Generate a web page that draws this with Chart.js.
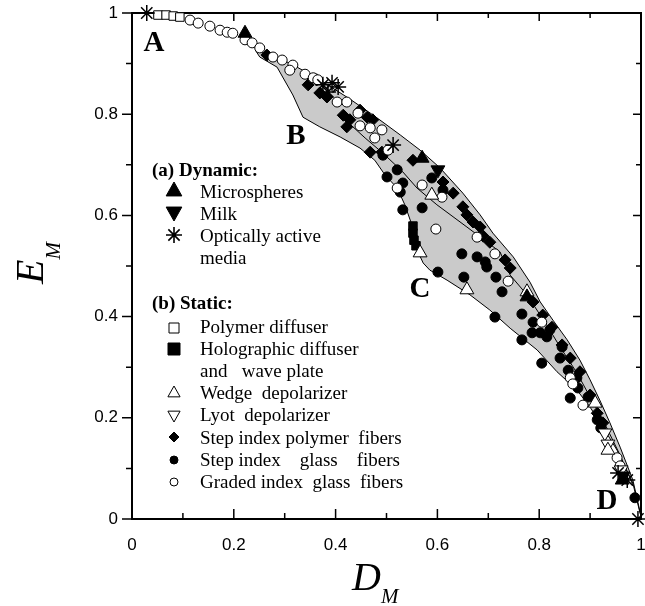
<!DOCTYPE html>
<html>
<head>
<meta charset="utf-8">
<script src="https://cdn.jsdelivr.net/npm/chart.js@4.4.1/dist/chart.umd.min.js"></script>
<style>
  html, body { margin: 0; padding: 0; background: #fff; }
  canvas { display: block; }
</style>
</head>
<body>
<canvas id="chart" width="645" height="606"></canvas>
<script>
// values: [D_M, E_M]
const microspheres = [[0.222, 0.960], [0.570, 0.713], [0.776, 0.439], [0.963, 0.077]];
const milk = [[0.601, 0.690], [0.965, 0.085]];
const opticallyActive = [[0.029, 1.0], [0.375, 0.858], [0.393, 0.862], [0.405, 0.854], [0.385, 0.844],
  [0.513, 0.739], [0.955, 0.091], [0.973, 0.077], [0.994, 0.0]];
const polymerDiffuser = [[0.051, 0.996], [0.067, 0.996], [0.081, 0.994], [0.094, 0.992]];
const holographicDiffuser = [[0.552, 0.579], [0.552, 0.565], [0.554, 0.551], [0.558, 0.540]];
const wedgeDepolarizer = [[0.566, 0.526], [0.589, 0.640], [0.658, 0.453], [0.776, 0.449], [0.910, 0.229], [0.935, 0.136]];
const lyotDepolarizer = [[0.929, 0.170], [0.935, 0.148], [0.961, 0.097]];
const stepIndexPolymer = [[0.265, 0.917], [0.346, 0.858], [0.363, 0.868], [0.369, 0.842], [0.383, 0.834],
  [0.415, 0.798], [0.428, 0.789], [0.422, 0.775], [0.448, 0.808], [0.462, 0.794], [0.473, 0.789],
  [0.468, 0.725], [0.491, 0.725], [0.552, 0.709], [0.611, 0.666], [0.631, 0.644], [0.650, 0.617],
  [0.658, 0.601], [0.670, 0.587], [0.684, 0.577], [0.690, 0.559], [0.703, 0.547], [0.733, 0.512],
  [0.743, 0.496], [0.788, 0.429], [0.807, 0.403], [0.825, 0.379], [0.845, 0.344], [0.861, 0.318],
  [0.880, 0.291], [0.900, 0.245], [0.914, 0.209], [0.925, 0.190]];
const stepIndexGlass = [[0.521, 0.690], [0.501, 0.676], [0.493, 0.719], [0.532, 0.664], [0.527, 0.646],
  [0.532, 0.611], [0.570, 0.615], [0.589, 0.674], [0.611, 0.650], [0.648, 0.524], [0.678, 0.518],
  [0.694, 0.508], [0.697, 0.498], [0.601, 0.488], [0.652, 0.478], [0.715, 0.478], [0.727, 0.449],
  [0.713, 0.399], [0.766, 0.405], [0.788, 0.389], [0.786, 0.368], [0.802, 0.368], [0.815, 0.360],
  [0.821, 0.374], [0.766, 0.354], [0.845, 0.340], [0.841, 0.318], [0.805, 0.308], [0.857, 0.294],
  [0.874, 0.279], [0.876, 0.259], [0.861, 0.239], [0.896, 0.241], [0.914, 0.196], [0.921, 0.180],
  [0.988, 0.042]];
const gradedIndexGlass = [[0.114, 0.986], [0.130, 0.980], [0.153, 0.974], [0.173, 0.966], [0.187, 0.962],
  [0.198, 0.960], [0.222, 0.947], [0.236, 0.941], [0.251, 0.931], [0.277, 0.913], [0.295, 0.907],
  [0.316, 0.897], [0.310, 0.887], [0.340, 0.879], [0.356, 0.872], [0.365, 0.868], [0.403, 0.824],
  [0.422, 0.824], [0.444, 0.802], [0.448, 0.777], [0.468, 0.773], [0.491, 0.769], [0.477, 0.753],
  [0.503, 0.729], [0.521, 0.654], [0.570, 0.660], [0.609, 0.636], [0.597, 0.573], [0.678, 0.557],
  [0.713, 0.524], [0.739, 0.470], [0.805, 0.389], [0.861, 0.279], [0.866, 0.267], [0.886, 0.225],
  [0.953, 0.121], [0.959, 0.105]];

// grey region: upper edge then lower edge back
const regionOutline = [[0.242, 0.927], [0.310, 0.901], [0.369, 0.868], [0.428, 0.830], [0.477, 0.796],
  [0.527, 0.759], [0.566, 0.729], [0.605, 0.694], [0.650, 0.644], [0.684, 0.601], [0.709, 0.565],
  [0.749, 0.518], [0.782, 0.468], [0.802, 0.429], [0.827, 0.393], [0.855, 0.354], [0.880, 0.314],
  [0.900, 0.275], [0.919, 0.235], [0.939, 0.190], [0.959, 0.142], [0.984, 0.077], [1.0, 0.006],
  [0.998, 0.012], [0.984, 0.071], [0.953, 0.136], [0.925, 0.182], [0.900, 0.221], [0.874, 0.255],
  [0.835, 0.291], [0.796, 0.334], [0.743, 0.377], [0.703, 0.413], [0.664, 0.443], [0.619, 0.472],
  [0.585, 0.492], [0.572, 0.506], [0.560, 0.532], [0.550, 0.581], [0.536, 0.621], [0.521, 0.654],
  [0.497, 0.680], [0.477, 0.709], [0.448, 0.733], [0.409, 0.755], [0.369, 0.775], [0.336, 0.794],
  [0.316, 0.838], [0.285, 0.893], [0.251, 0.913], [0.242, 0.927]];
const regionDivider = [[0.409, 0.798], [0.458, 0.753], [0.493, 0.723], [0.532, 0.686], [0.560, 0.654],
  [0.599, 0.621], [0.658, 0.577], [0.723, 0.528], [0.743, 0.482], [0.776, 0.443], [0.815, 0.383],
  [0.841, 0.340], [0.874, 0.289], [0.900, 0.241], [0.925, 0.196], [0.959, 0.126], [0.984, 0.067]];

const tickMarks = [0, 0.1, 0.2, 0.3, 0.4, 0.5, 0.6, 0.7, 0.8, 0.9, 1];
const pointNames = [['A', 0.043, 0.940], ['B', 0.322, 0.755], ['C', 0.566, 0.453], ['D', 0.933, 0.034]];

const legendRows = [
  { text: '(a) Dynamic:', y: 176 },
  { text: 'Microspheres', y: 198, mark: 'up', fill: true, r: 9, dy: -7 },
  { text: 'Milk', y: 220, mark: 'down', fill: true, r: 9, dy: -8 },
  { text: 'Optically active', y: 242, mark: 'star', r: 8, dy: -7 },
  { text: 'media', y: 264 },
  { text: '(b) Static:', y: 309 },
  { text: 'Polymer diffuser', y: 333, mark: 'rect', fill: false, r: 5, dy: -5 },
  { text: 'Holographic diffuser', y: 355, mark: 'rect', fill: true, r: 6, dy: -6 },
  { text: 'and   wave plate', y: 377 },
  { text: 'Wedge  depolarizer', y: 399, mark: 'up', fill: false, r: 7, dy: -6 },
  { text: 'Lyot  depolarizer', y: 421, mark: 'down', fill: false, r: 7, dy: -6 },
  { text: 'Step index polymer  fibers', y: 444, mark: 'diamond', fill: true, r: 5, dy: -7 },
  { text: 'Step index    glass    fibers', y: 466, mark: 'circle', fill: true, r: 4, dy: -6 },
  { text: 'Graded index  glass  fibers', y: 488, mark: 'circle', fill: false, r: 4, dy: -6 }
];

const pts = arr => arr.map(([x, y]) => ({ x, y }));
const serif = '"Liberation Serif", "Times New Roman", serif';

function marker(ctx, kind, x, y, r, filled) {
  ctx.beginPath();
  if (kind === 'circle') {
    ctx.arc(x, y, r, 0, Math.PI * 2);
  } else if (kind === 'rect') {
    ctx.rect(x - r, y - r, 2 * r, 2 * r);
  } else if (kind === 'diamond') {
    ctx.moveTo(x, y - r); ctx.lineTo(x + r, y); ctx.lineTo(x, y + r); ctx.lineTo(x - r, y); ctx.closePath();
  } else if (kind === 'up') {
    ctx.moveTo(x, y - r); ctx.lineTo(x + r * 0.87, y + r * 0.55); ctx.lineTo(x - r * 0.87, y + r * 0.55); ctx.closePath();
  } else if (kind === 'down') {
    ctx.moveTo(x, y + r); ctx.lineTo(x + r * 0.87, y - r * 0.55); ctx.lineTo(x - r * 0.87, y - r * 0.55); ctx.closePath();
  } else if (kind === 'star') {
    for (let i = 0; i < 4; i++) {
      const a = i * Math.PI / 4;
      ctx.moveTo(x - r * Math.cos(a), y - r * Math.sin(a));
      ctx.lineTo(x + r * Math.cos(a), y + r * Math.sin(a));
    }
  }
  if (kind !== 'star') {
    ctx.fillStyle = filled ? '#000' : '#fff';
    ctx.fill();
  }
  ctx.stroke();
}

const frame = {
  id: 'frame',
  beforeDatasetsDraw(chart) {
    const { ctx, chartArea: a, scales: { x, y } } = chart;
    ctx.save();
    ctx.strokeStyle = '#000';
    ctx.lineWidth = 1.5;
    ctx.beginPath();
    tickMarks.forEach((v, i) => {
      const major = i % 2 === 0;
      const px = x.getPixelForValue(v), py = y.getPixelForValue(v);
      ctx.moveTo(px, a.bottom); ctx.lineTo(px, a.bottom - (major ? 10 : 6));
      ctx.moveTo(px, a.top); ctx.lineTo(px, a.top + (major ? 8 : 5));
      ctx.moveTo(a.left, py); ctx.lineTo(a.left - (major ? 10 : 6), py);
      ctx.moveTo(a.right, py); ctx.lineTo(a.right - (major ? 8 : 5), py);
    });
    ctx.stroke();
    ctx.lineWidth = 2;
    ctx.strokeRect(a.left, a.top, a.right - a.left, a.bottom - a.top);
    ctx.restore();
  }
};

const notes = {
  id: 'notes',
  afterDatasetsDraw(chart) {
    const { ctx, scales: { x, y } } = chart;
    ctx.save();
    ctx.fillStyle = '#000';
    ctx.strokeStyle = '#000';
    ctx.textAlign = 'center';
    ctx.textBaseline = 'middle';
    ctx.font = 'bold 29px ' + serif;
    pointNames.forEach(([t, vx, vy]) => ctx.fillText(t, x.getPixelForValue(vx), y.getPixelForValue(vy)));

    // legend
    ctx.textAlign = 'left';
    ctx.textBaseline = 'alphabetic';
    ctx.lineWidth = 1;
    legendRows.forEach(row => {
      if (row.text.startsWith('(')) {
        ctx.font = 'bold 19px ' + serif;
        ctx.fillStyle = '#000';
        ctx.fillText(row.text, 152, row.y);
        return;
      }
      ctx.font = '19px ' + serif;
      ctx.fillStyle = '#000';
      ctx.fillText(row.text, 200, row.y);
      if (row.mark) {
        ctx.lineWidth = row.mark === 'star' ? 1.6 : 1;
        marker(ctx, row.mark, 174, row.y + row.dy, row.r, row.fill);
      }
    });

    // axis titles with subscript
    ctx.fillStyle = '#000';
    ctx.font = 'italic 40px ' + serif;
    const dW = ctx.measureText('D').width;
    ctx.fillText('D', 352, 590);
    ctx.font = 'italic 21px ' + serif;
    ctx.fillText('M', 352 + dW, 603);

    ctx.translate(43, 284);
    ctx.rotate(-Math.PI / 2);
    ctx.font = 'italic 40px ' + serif;
    const eW = ctx.measureText('E').width;
    ctx.fillText('E', 0, 0);
    ctx.font = 'italic 21px ' + serif;
    ctx.fillText('M', eW, 17);
    ctx.restore();
  }
};

const ticksFont = { family: '"Liberation Sans", Arial, sans-serif', size: 17 };
const tickText = v => String(Number(v.toFixed(1)));

function series(data, style, extra) {
  return Object.assign({
    data: pts(data),
    pointStyle: style,
    borderColor: '#000',
    pointBorderWidth: 1,
    showLine: false
  }, extra);
}

new Chart(document.getElementById('chart'), {
  type: 'scatter',
  data: {
    datasets: [
      series(opticallyActive, 'star', { pointRadius: 8, pointBorderWidth: 1.5, order: 0, clip: false }),
      series(microspheres, 'triangle', { backgroundColor: '#000', pointRadius: 8, order: 1 }),
      series(milk, 'triangle', { backgroundColor: '#000', pointRadius: 8, rotation: 180, order: 1 }),
      series(wedgeDepolarizer, 'triangle', { backgroundColor: '#fff', pointRadius: 8, order: 2 }),
      series(lyotDepolarizer, 'triangle', { backgroundColor: '#fff', pointRadius: 8, rotation: 180, order: 2 }),
      series(polymerDiffuser, 'rect', { backgroundColor: '#fff', pointRadius: 6, order: 3, clip: false }),
      series(holographicDiffuser, 'rect', { backgroundColor: '#000', pointRadius: 6, order: 3 }),
      series(gradedIndexGlass, 'circle', { backgroundColor: '#fff', pointRadius: 5, order: 4 }),
      series(stepIndexPolymer, 'rectRot', { backgroundColor: '#000', pointRadius: 6, order: 5 }),
      series(stepIndexGlass, 'circle', { backgroundColor: '#000', pointRadius: 5, order: 6 }),
      {
        type: 'line',
        data: pts(regionDivider),
        borderColor: '#000',
        borderWidth: 1,
        pointRadius: 0,
        fill: false,
        tension: 0,
        order: 8
      },
      {
        type: 'line',
        data: pts(regionOutline),
        borderColor: '#000',
        borderWidth: 1,
        backgroundColor: '#cacaca',
        pointRadius: 0,
        fill: 'shape',
        tension: 0,
        order: 9
      }
    ]
  },
  options: {
    responsive: false,
    animation: false,
    layout: { autoPadding: false, padding: { top: 13, right: 4, left: 0, bottom: 0 } },
    plugins: { legend: { display: false }, tooltip: { enabled: false } },
    scales: {
      x: {
        type: 'linear', min: 0, max: 1,
        ticks: { stepSize: 0.2, font: ticksFont, color: '#000', padding: 0, maxRotation: 0, autoSkip: false, callback: tickText },
        grid: { display: false, drawTicks: true, tickLength: 16 },
        border: { display: false },
        afterFit: s => { s.height = 87; s.paddingLeft = 0; s.paddingRight = 0; }
      },
      y: {
        type: 'linear', min: 0, max: 1,
        ticks: { stepSize: 0.2, font: ticksFont, color: '#000', padding: 0, callback: tickText },
        grid: { display: false, drawTicks: true, tickLength: 14 },
        border: { display: false },
        afterFit: s => { s.width = 132; }
      }
    }
  },
  plugins: [frame, notes]
});
</script>
</body>
</html>
